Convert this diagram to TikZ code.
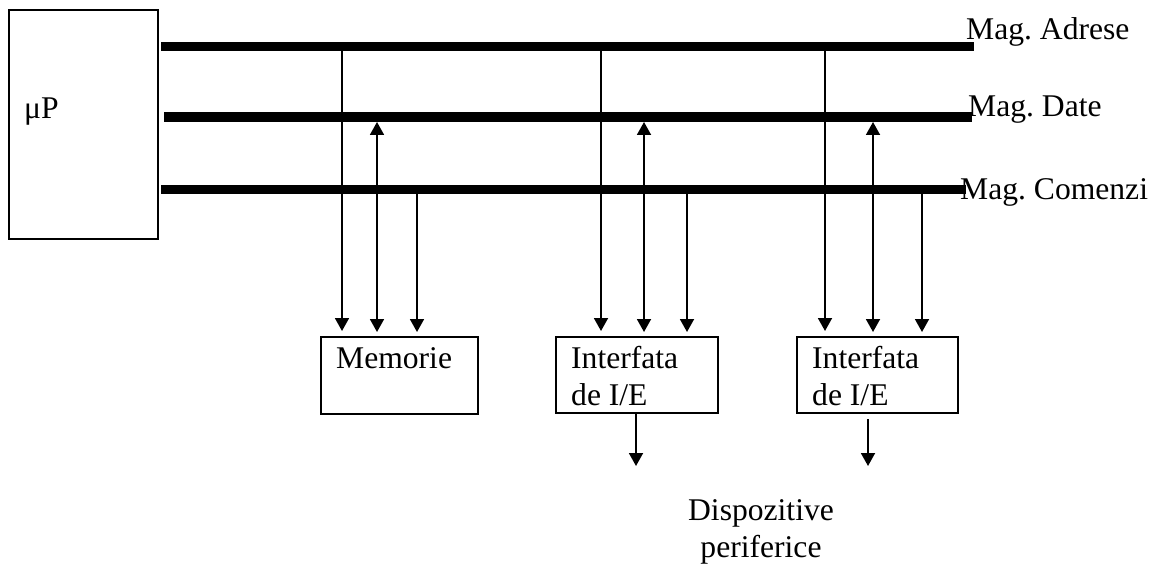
\documentclass[tikz,border=0pt]{standalone}
\usepackage{fontspec}
\setmainfont{Liberation Serif}
\usetikzlibrary{arrows.meta}
\frenchspacing
\begin{document}
\begin{tikzpicture}[x=1pt,y=-1pt,
    txt/.style={inner sep=0pt, font=\fontsize{31.6}{37}\selectfont\frenchspacing, align=left},
    blk/.style={draw, line width=2pt, rectangle, inner sep=0pt},
    bus/.style={line width=9.5pt},
    sig/.style={line width=1.8pt, -{Triangle[width=14pt,length=13pt]}},
    bisig/.style={line width=1.8pt, {Triangle[width=14pt,length=13pt]}-{Triangle[width=14pt,length=13pt]}}]
  \useasboundingbox (0,0) rectangle (1153,564);

  % processor
  \node[blk, minimum width=149pt, minimum height=229pt] (up) at (83.5,124.5) {};
  \node[txt, anchor=base west] (uplbl) at (24,119) {μP};

  % buses
  \coordinate (aL) at (161,46.5);  \coordinate (aR) at (974,46.5);
  \coordinate (dL) at (164,117);   \coordinate (dR) at (972,117);
  \coordinate (cL) at (161,189.5); \coordinate (cR) at (966,189.5);
  \draw[bus] (aL) -- (aR);
  \draw[bus] (dL) -- (dR);
  \draw[bus] (cL) -- (cR);
  \node[txt, anchor=base west] (la) at (966,40)  {Mag. Adrese};
  \node[txt, anchor=base west] (ld) at (968,117) {Mag. Date};
  \node[txt, anchor=base west] (lc) at (960,200) {Mag. Comenzi};

  % memory and I/O interfaces
  \node[blk, minimum width=157pt, minimum height=77pt] (mem) at (399.5,375.5) {};
  \node[blk, minimum width=162pt, minimum height=76pt] (if1) at (637,375) {};
  \node[blk, minimum width=161pt, minimum height=76pt] (if2) at (877.5,375) {};
  \node[txt, anchor=base west] (memlbl) at (336,368) {Memorie};
  % two-line labels: the base anchor sits on the last line
  \node[txt, anchor=base west] (if1lbl) at (571,405) {Interfata\\de I/E};
  \node[txt, anchor=base west] (if2lbl) at (812,405) {Interfata\\de I/E};

  % bus connections
  \foreach \blkname/\xa/\xd/\xc in {mem/342/377/417, if1/601/644/687, if2/825/873/922} {
    \draw[sig, shorten >=5pt] (aL -| \xa,0) -- (\blkname.north -| \xa,0);
    \draw[bisig, shorten <=5pt, shorten >=4pt] (dL -| \xd,0) -- (\blkname.north -| \xd,0);
    \draw[sig, shorten >=4pt] (cL -| \xc,0) -- (\blkname.north -| \xc,0);
  }

  % peripherals
  \coordinate (p1) at (636,466);
  \coordinate (p2) at (868,466);
  \draw[sig] (if1.south -| p1) -- (p1);
  \draw[sig, shorten <=5pt] (if2.south -| p2) -- (p2);
  \node[txt, align=center, anchor=base] (per) at (761,557) {Dispozitive\\periferice};
\end{tikzpicture}
\end{document}
